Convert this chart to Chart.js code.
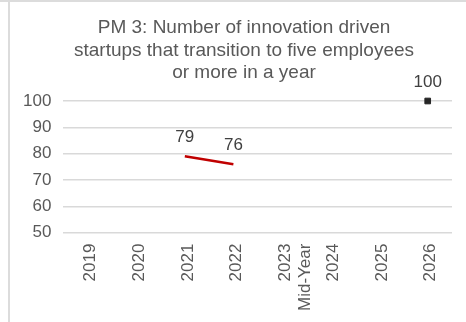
<!DOCTYPE html>
<html>
<head>
<meta charset="utf-8">
<script src="https://cdn.jsdelivr.net/npm/chart.js@4.4.1/dist/chart.umd.min.js"></script>
<style>
  html, body { margin: 0; padding: 0; background: #fff; }
  #wrap { position: relative; width: 466px; height: 322px; }
  #frameTop { position: absolute; left: 0; top: 0; width: 466px; height: 2px; background: #dcdcdc; }
  #frameLeft { position: absolute; left: 8px; top: 0; width: 2px; height: 322px; background: #dcdcdc; }
  canvas { position: absolute; left: 0; top: 0; }
</style>
</head>
<body>
<div id="wrap">
  <canvas id="pmChart" width="466" height="322"></canvas>
  <div id="frameTop"></div>
  <div id="frameLeft"></div>
</div>
<script>
// chart values
const years = ['2019', '2020', '2021', '2022', ['2023', 'Mid-Year'], '2024', '2025', '2026'];
const actual = [null, null, 79, 76, null, null, null, null];
const target = [null, null, null, null, null, null, null, 100];
const yTicks = [50, 60, 70, 80, 90, 100];
const titleLines = ['PM 3: Number of innovation driven', 'startups that transition to five employees', 'or more in a year'];

const grey = '#595959';
const fontFam = '"Liberation Sans", Arial, sans-serif';

// title drawn by hand so it sits where the original one does
const chartTitle = {
  id: 'chartTitle',
  afterDraw(chart) {
    const ctx = chart.ctx;
    ctx.save();
    ctx.font = '19px ' + fontFam;
    ctx.fillStyle = grey;
    ctx.textAlign = 'center';
    ctx.textBaseline = 'alphabetic';
    titleLines.forEach((t, i) => ctx.fillText(t, 244, 33 + i * 22.5));
    ctx.restore();
  }
};

// value labels above points (no datalabels plugin available)
const valueLabels = {
  id: 'valueLabels',
  afterDatasetsDraw(chart) {
    const ctx = chart.ctx;
    ctx.save();
    ctx.font = '17px ' + fontFam;
    ctx.fillStyle = '#404040';
    ctx.textAlign = 'center';
    ctx.textBaseline = 'bottom';
    chart.data.datasets.forEach((ds, i) => {
      chart.getDatasetMeta(i).data.forEach((pt, j) => {
        const v = ds.data[j];
        if (v == null) return;
        ctx.fillText(String(v), pt.x, pt.y - 10);
      });
    });
    ctx.restore();
  }
};

new Chart(document.getElementById('pmChart'), {
  type: 'line',
  data: {
    labels: years,
    datasets: [
      {
        label: 'Actual',
        data: actual,
        borderColor: '#c00000',
        borderWidth: 2.5,
        pointRadius: 0,
      },
      {
        label: 'Target',
        data: target,
        showLine: false,
        clip: false,
        pointStyle: 'rect',
        pointRadius: 4,
        backgroundColor: '#262626',
        borderColor: '#262626',
      },
    ],
  },
  options: {
    responsive: false,
    animation: false,
    layout: { padding: { left: 11, right: 14, top: 101, bottom: 0 } },
    scales: {
      x: {
        offset: true,
        grid: { display: false, drawTicks: false },
        border: { display: false },
        ticks: {
          color: grey,
          font: { family: fontFam, size: 17 },
          minRotation: 90,
          maxRotation: 90,
          padding: 11,
          labelOffset: 3,
          autoSkip: false,
        },
      },
      y: {
        min: 50,
        max: 100,
        afterBuildTicks: (axis) => { axis.ticks = yTicks.map(v => ({ value: v })); },
        grid: { color: '#d9d9d9', lineWidth: 1.5, drawTicks: false },
        border: { display: false },
        ticks: {
          color: grey,
          font: { family: fontFam, size: 17 },
          padding: 12,
        },
      },
    },
    plugins: {
      legend: { display: false },
      tooltip: { enabled: false },
      title: { display: false },
    },
  },
  plugins: [valueLabels, chartTitle],
});
</script>
</body>
</html>
